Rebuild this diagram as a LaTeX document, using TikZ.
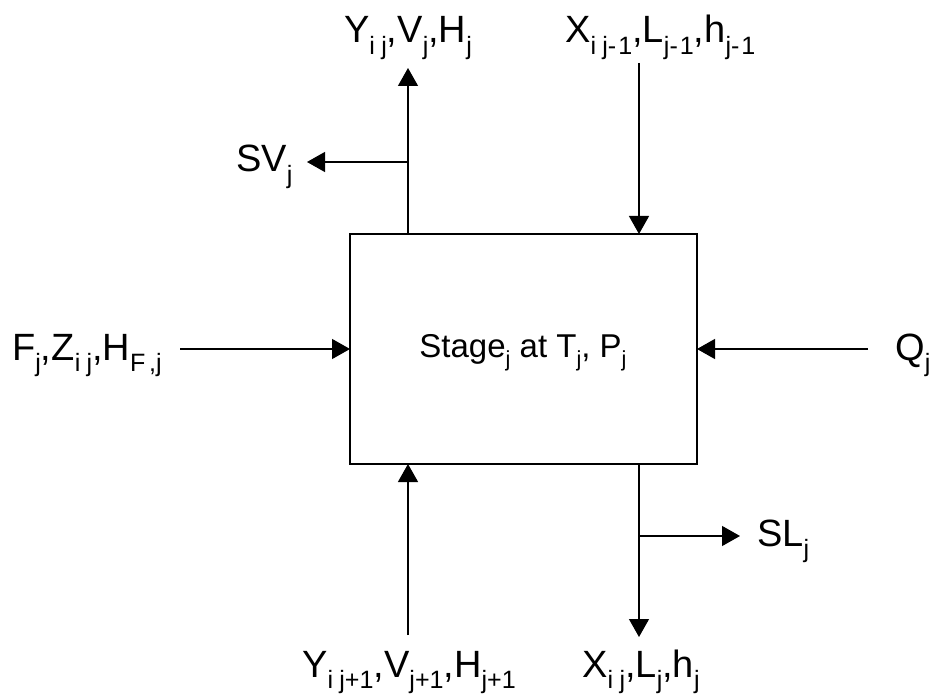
\documentclass[tikz,border=0pt]{standalone}
\usepackage{fontspec}
\setmainfont{Liberation Sans}
\usetikzlibrary{arrows.meta}
\newcommand\lo[1]{\raisebox{-0.3em}{\scalebox{0.66}{#1}}}
\newcommand\subij{i\kern0.25em j}
\newcommand\submo{-\kern0.08em 1}
\tikzset{
  lbl/.style={font=\fontsize{38}{44}\selectfont, inner sep=0pt},
  arr/.style={line width=1.3pt, -{Triangle[length=18pt,width=20pt]}},
  stagebox/.style={draw, line width=1.3pt, minimum width=347pt, minimum height=230pt, inner sep=0pt}
}
\begin{document}
\begin{tikzpicture}[x=1pt,y=-1pt]
\useasboundingbox (0,0) rectangle (930,695);
% stage box
\node[stagebox] (stage) at (523.5,349) {};
\node[font=\fontsize{33}{38}\selectfont, inner sep=0pt, anchor=base] (stagetext) at (523,357) {Stage\lo{j} at T\lo{j}, P\lo{j}};
% labels
\node[lbl, anchor=base] (yout) at (408,43) {Y\lo{\subij},V\lo{j},H\lo{j}};
\node[lbl, anchor=base west] (xin) at (565,43) {X\lo{\subij\submo},L\lo{j\submo},h\lo{j\submo}};
\node[lbl, anchor=base west] (sv) at (236,172) {SV\lo{j}};
\node[lbl, anchor=base west] (feed) at (12,360) {F\lo{j},Z\lo{\subij},H\lo{F\kern0.15em,j}};
\node[lbl, anchor=base west] (q) at (895,360) {Q\lo{j}};
\node[lbl, anchor=base west] (sl) at (757,546) {SL\lo{j}};
\node[lbl, anchor=base] (yin) at (409,677) {Y\lo{\subij+1},V\lo{j+1},H\lo{j+1}};
\node[lbl, anchor=base] (xout) at (641,677) {X\lo{\subij},L\lo{j},h\lo{j}};
% connector end points
\coordinate (votop) at (408,68);
\coordinate (vobox) at (408,234);
\coordinate (vobr) at (408,162);
\coordinate (svend) at (307,162);
\coordinate (listart) at (639,63);
\coordinate (libox) at (639,234);
\coordinate (fstart) at (180,349);
\coordinate (fbox) at (350,349);
\coordinate (qstart) at (868,349);
\coordinate (qbox) at (697,349);
\coordinate (vistart) at (408,635);
\coordinate (vibox) at (408,464);
\coordinate (lobox) at (639,464);
\coordinate (loend) at (639,637);
\coordinate (lobr) at (639,536);
\coordinate (slend) at (740,536);
% connectors
\draw[arr] (vobox) -- (votop);
\draw[arr] (vobr) -- (svend);
\draw[arr] (listart) -- (libox);
\draw[arr] (fstart) -- (fbox);
\draw[arr] (qstart) -- (qbox);
\draw[arr] (vistart) -- (vibox);
\draw[arr] (lobox) -- (loend);
\draw[arr] (lobr) -- (slend);
\end{tikzpicture}
\end{document}
